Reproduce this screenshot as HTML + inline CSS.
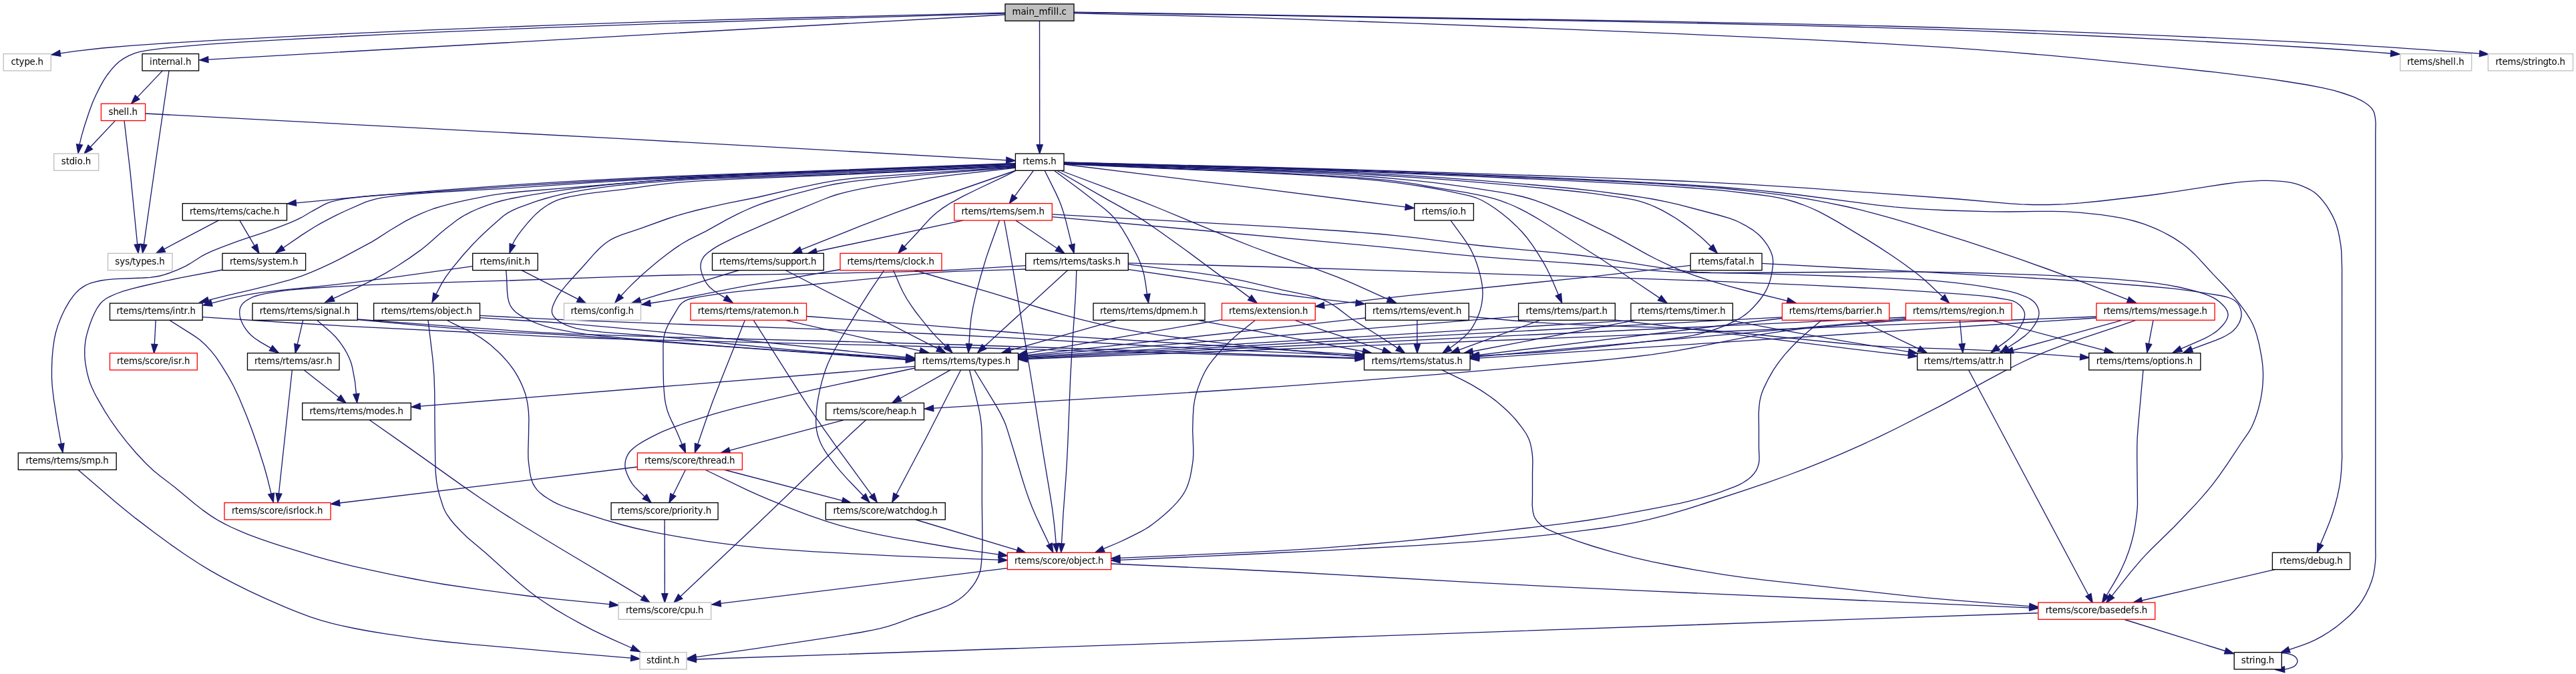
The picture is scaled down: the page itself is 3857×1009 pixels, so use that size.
<!DOCTYPE html><html><head><meta charset="utf-8"><title>main_mfill.c include graph</title><style>html,body{margin:0;padding:0;background:#fff}svg{display:block;will-change:transform}text{font-family:"DejaVu Sans","Liberation Sans",sans-serif;font-size:13.33px;text-anchor:start;fill:#000}.e path{fill:none;stroke:#191970;stroke-width:1.33}.e polygon{fill:#191970;stroke:#191970;stroke-width:1.33}</style></head><body>
<svg width="3857" height="1009" viewBox="0 0 3857 1009">
<rect width="3857" height="1009" fill="#fff"/>
<g class="e">
<path d="M1505.0,19.2 L1158.2,27.5 L1002.5,31.7 L836.5,37.3 L637.3,45.2 L524.6,50.2 L419.6,55.3 L326.1,60.2 L238.7,65.3 L195.4,68.3 L153.2,72.0 L114.6,76.3 L90.1,79.9"/><polygon points="77.0,82.0 89.4,75.4 90.8,84.3"/>
<path d="M1505.0,20.2 L1158.2,30.1 L1002.5,34.9 L819.2,41.4 L653.2,48.1 L575.7,51.6 L487.4,56.0 L415.7,59.8 L351.1,63.7 L306.6,66.7 L269.4,69.8 L245.7,72.2 L219.4,75.7 L209.8,77.4 L201.9,79.6 L192.9,83.3 L185.5,87.4 L178.5,92.3 L172.7,97.5 L166.6,104.3 L160.7,112.0 L154.8,120.9 L149.3,130.9 L143.4,142.8 L138.4,154.1 L133.2,168.2 L126.6,188.3 L122.3,202.9 L119.0,216.4"/><polygon points="117.0,229.5 114.5,215.7 123.4,217.0"/>
<path d="M1505.0,22.0 L933.7,53.8 L311.8,89.2"/><polygon points="298.5,90.0 311.5,84.8 312.0,93.7"/>
<path d="M1556.5,31.2 L1556.7,216.7"/><polygon points="1556.7,230.0 1552.2,216.7 1561.2,216.6"/>
<path d="M1608.0,18.7 L1858.0,22.4 L2436.5,32.6 L2659.0,37.3 L2784.1,40.5 L2861.0,42.8 L2950.3,45.9 L3056.8,50.3 L3160.6,55.0 L3258.5,59.9 L3367.9,65.8 L3464.4,71.5 L3509.2,74.5 L3579.7,80.0"/><polygon points="3593.0,81.0 3579.4,84.5 3580.1,75.5"/>
<path d="M1608.0,18.2 L1829.8,21.5 L2481.6,31.9 L2701.8,36.2 L2823.3,39.0 L2897.0,41.0 L3001.7,44.3 L3127.3,48.8 L3245.9,53.6 L3356.3,58.6 L3457.0,63.6 L3519.4,67.1 L3576.0,70.7 L3712.7,80.1"/><polygon points="3726.0,81.0 3712.4,84.6 3713.0,75.6"/>
<path d="M1608.0,19.8 L1790.5,24.1 L1888.0,26.9 L2094.6,34.2 L2309.1,42.3 L2490.3,49.6 L2664.3,57.3 L2744.1,61.2 L2816.6,65.1 L2912.5,70.9 L2958.0,74.1 L3013.5,78.4 L3064.6,82.7 L3113.0,87.1 L3184.0,94.1 L3257.4,101.6 L3317.5,108.2 L3364.1,113.8 L3397.7,118.2 L3420.0,121.5 L3454.3,127.0 L3477.0,131.3 L3494.5,135.4 L3509.7,140.0 L3524.2,145.2 L3534.9,150.1 L3540.7,153.5 L3546.0,157.2 L3549.7,160.6 L3552.6,164.4 L3554.4,167.8 L3555.5,171.5 L3556.5,177.3 L3557.1,184.2 L3556.8,200.0 L3556.8,820.0 L3557.0,832.5 L3556.6,840.2 L3555.5,850.7 L3553.7,860.7 L3551.5,868.5 L3547.4,879.2 L3542.2,890.1 L3536.9,899.1 L3531.9,906.3 L3526.0,913.2 L3518.3,921.2 L3508.6,929.8 L3497.4,938.9 L3487.2,946.0 L3476.5,952.6 L3466.7,957.8 L3456.7,962.3 L3446.0,966.3 L3427.5,972.6"/><polygon points="3415.0,977.0 3426.1,968.3 3429.0,976.8"/>
<path d="M243.3,105.9 L205.6,145.6"/><polygon points="196.5,155.3 202.4,142.5 208.9,148.7"/>
<path d="M253.0,106.0 L232.8,244.2 L215.4,365.8"/><polygon points="213.5,379.0 210.9,365.2 219.8,366.5"/>
<path d="M172.6,180.6 L135.2,220.3"/><polygon points="126.1,230.0 132.0,217.2 138.5,223.4"/>
<path d="M186.0,180.5 L194.9,256.6 L205.7,365.8"/><polygon points="207.0,379.0 201.2,366.2 210.2,365.3"/>
<path d="M217.6,170.0 L931.1,207.7 L1129.1,218.6 L1506.7,239.8"/><polygon points="1520.0,240.5 1506.5,244.3 1507.0,235.3"/>
<path d="M1520.0,244.5 L1025.7,263.2 L951.8,266.4 L868.6,270.6 L818.0,273.6 L771.2,276.6 L667.8,284.2 L548.0,294.0 L443.2,303.8"/><polygon points="430.0,305.0 442.8,299.3 443.7,308.2"/>
<path d="M1520.0,245.1 L1060.5,263.0 L981.2,266.5 L904.1,270.5 L773.5,278.4 L625.8,288.7 L561.1,292.7 L544.6,294.2 L518.2,297.4 L506.8,299.3 L496.4,301.9 L490.1,304.1 L484.7,306.6 L467.1,316.3 L451.2,325.7 L443.0,329.6 L433.8,333.6 L417.6,339.9 L397.4,347.4 L366.3,357.6 L354.6,361.6 L332.5,369.8 L316.9,376.1 L307.9,380.3 L302.3,383.3 L284.4,394.7 L278.0,398.3 L266.1,403.9 L252.9,409.0 L245.6,411.4 L239.6,413.0 L234.0,414.0 L224.8,415.3 L213.8,416.0 L171.7,417.7 L158.9,418.8 L151.0,420.0 L139.9,422.6 L135.6,423.9 L131.6,425.5 L127.8,427.4 L124.1,429.6 L120.6,432.1 L117.3,434.8 L114.1,437.9 L110.4,442.1 L103.9,451.1 L97.7,461.8 L91.8,474.0 L86.7,487.1 L83.3,498.5 L81.1,509.1 L79.2,523.0 L78.0,537.4 L77.5,551.8 L77.5,565.7 L78.3,579.3 L80.6,598.3 L85.7,631.4 L91.6,664.4"/><polygon points="94.0,677.5 87.2,665.2 96.0,663.6"/>
<path d="M1520.0,245.7 L1251.7,256.1 L1084.2,263.1 L981.2,267.9 L890.3,273.1 L762.3,281.8 L653.7,287.9 L616.7,290.7 L592.4,293.1 L572.5,295.9 L562.8,297.9 L554.0,300.3 L548.2,302.2 L542.9,304.4 L516.5,316.0 L504.6,321.7 L492.4,327.9 L480.2,334.4 L470.5,340.0 L453.0,351.1 L424.0,371.0"/><polygon points="413.0,378.5 421.5,367.3 426.5,374.7"/>
<path d="M1520.0,246.3 L1126.4,262.1 L1081.1,264.2 L1037.2,266.5 L997.7,269.0 L961.1,271.8 L848.2,281.4 L784.4,286.5 L757.4,289.2 L734.8,292.4 L700.7,299.1 L686.0,302.3 L673.6,305.4 L660.0,309.1 L650.5,312.0 L640.9,315.5 L631.3,319.4 L618.1,325.4 L606.0,331.7 L584.4,344.5 L565.2,356.9 L556.7,362.1 L509.1,387.6 L498.1,393.1 L479.8,401.6 L466.4,407.4 L452.6,412.8 L435.3,418.6 L411.5,425.2 L377.6,433.7 L340.9,442.2 L311.9,449.3"/><polygon points="299.0,452.5 310.8,444.9 313.0,453.7"/>
<path d="M1520.0,247.5 L1240.0,259.5 L1069.7,265.6 L1027.9,267.6 L992.5,269.7 L961.9,271.9 L933.1,274.3 L905.1,277.0 L875.8,280.3 L847.8,283.9 L825.0,287.1 L787.5,293.2 L769.2,296.5 L759.2,298.6 L749.4,301.0 L740.4,303.7 L730.0,307.1 L720.0,310.8 L712.3,314.0 L704.9,317.4 L696.4,321.8 L690.8,325.1 L684.2,329.5 L666.7,342.9 L658.9,349.4 L640.9,365.6 L629.8,374.4 L613.7,385.9 L595.3,398.0 L576.6,409.3 L555.4,420.7 L534.8,430.6 L499.1,446.9"/><polygon points="487.0,452.5 497.2,442.8 501.0,451.0"/>
<path d="M1520.0,248.5 L1330.8,257.4 L1240.0,261.4 L1191.3,263.2 L1087.4,266.5 L1052.5,267.9 L1027.9,269.2 L970.8,273.3 L945.6,275.5 L922.1,277.9 L900.4,280.6 L877.7,283.8 L859.8,286.9 L845.2,289.9 L829.7,293.6 L815.5,297.5 L802.1,301.7 L787.0,307.1 L775.9,311.2 L767.0,315.1 L760.0,318.9 L754.1,323.0 L749.6,326.7 L731.8,342.6 L718.1,355.4 L705.9,368.0 L693.5,381.8 L677.1,401.7 L667.6,414.3 L660.9,425.1 L652.9,440.6"/><polygon points="647.0,452.5 648.9,438.6 657.0,442.6"/>
<path d="M1520.0,249.2 L1230.2,262.9 L1094.1,268.4 L1042.6,271.1 L1015.5,273.2 L994.7,275.3 L975.9,277.7 L934.9,283.3 L890.9,288.3 L876.1,290.3 L852.4,294.7 L844.7,296.5 L838.8,298.2 L833.2,300.2 L827.2,302.9 L821.8,305.8 L815.7,309.8 L808.9,314.8 L803.0,319.9 L797.3,325.6 L790.9,332.7 L781.3,344.3 L775.1,352.6 L770.5,359.8 L767.4,366.1"/><polygon points="763.0,378.7 763.1,364.7 771.6,367.6"/>
<path d="M1520.0,250.0 L1307.0,264.4 L1277.8,266.9 L1256.8,269.4 L1244.8,271.3 L1230.7,273.8 L1191.1,282.1 L1135.8,295.0 L1089.9,304.1 L1068.2,308.9 L1044.1,314.5 L1024.8,319.6 L1012.7,323.2 L997.9,328.0 L957.4,342.6 L931.1,351.3 L920.7,355.6 L914.8,358.7 L911.0,361.0 L905.5,364.9 L900.4,369.3 L895.4,374.0 L889.1,380.6 L873.6,398.2 L855.3,418.2 L847.9,426.6 L839.6,436.9 L835.5,442.7 L833.3,446.3 L830.4,452.0 L828.3,456.8 L827.1,460.4 L826.4,463.9 L826.4,467.3 L827.0,469.7 L828.2,472.3 L829.9,474.8 L833.1,478.0 L837.0,481.0 L841.7,483.7 L847.1,486.4 L853.6,488.9 L857.7,490.2 L862.1,491.3 L872.0,493.3 L883.2,495.1 L901.8,497.2 L922.1,498.9 L972.2,502.5 L993.2,504.3 L1099.2,515.5 L1183.8,523.6 L1214.6,526.2 L1250.6,529.0 L1356.7,536.1"/><polygon points="1370.0,537.0 1356.4,540.6 1357.0,531.6"/>
<path d="M1520.0,250.7 L1420.0,258.6 L1322.3,266.8 L1297.0,269.2 L1273.2,271.9 L1250.7,275.5 L1239.0,277.9 L1225.2,281.1 L1178.5,293.4 L1163.6,297.6 L1149.2,302.0 L1138.0,305.9 L1127.2,310.1 L1115.9,315.0 L1103.5,320.9 L1087.5,329.1 L1057.0,346.1 L1031.3,358.9 L1020.0,365.5 L1010.5,371.9 L998.7,380.5 L985.3,391.0 L971.3,402.7 L960.5,412.2 L949.0,423.1 L938.2,433.9 L929.8,443.0"/><polygon points="921.0,453.0 926.4,440.0 933.2,446.0"/>
<path d="M1520.0,251.4 L1431.7,261.3 L1408.4,264.1 L1385.6,267.2 L1342.6,273.6 L1310.6,278.7 L1285.8,283.3 L1268.0,287.3 L1260.0,289.3 L1250.8,292.0 L1242.4,294.9 L1232.9,298.5 L1195.0,314.1 L1145.4,335.3 L1111.2,350.3 L1098.7,356.1 L1080.5,365.1 L1072.4,369.6 L1066.6,373.4 L1059.3,378.8 L1054.6,383.3 L1053.2,385.2 L1051.6,388.0 L1050.3,390.8 L1049.6,393.1 L1049.1,396.1 L1049.0,399.3 L1049.3,403.0 L1050.3,407.4 L1051.8,412.1 L1053.8,416.9 L1056.3,421.6 L1058.4,424.9 L1062.2,429.5 L1067.4,434.1 L1075.2,439.5 L1085.8,445.9"/><polygon points="1097.0,453.0 1083.4,449.7 1088.2,442.1"/>
<path d="M1520.0,255.5 L1401.9,296.5 L1341.1,318.3 L1289.6,337.9 L1199.4,373.9"/><polygon points="1187.0,378.8 1197.7,369.7 1201.0,378.1"/>
<path d="M1521.0,255.5 L1506.5,262.8 L1460.7,284.5 L1441.2,294.2 L1423.5,303.8 L1412.0,311.1 L1402.5,318.2 L1397.1,323.0 L1392.1,327.8 L1386.2,334.1 L1373.8,348.0 L1354.0,369.2"/><polygon points="1345.0,379.0 1350.7,366.2 1357.3,372.3"/>
<path d="M1547.4,255.3 L1519.2,293.9"/><polygon points="1511.3,304.6 1515.5,291.2 1522.8,296.5"/>
<path d="M1564.0,255.0 L1581.2,289.6 L1585.3,298.6 L1589.0,308.0 L1592.7,319.1 L1596.0,330.8 L1604.7,366.1"/><polygon points="1608.0,379.0 1600.4,367.2 1609.1,365.0"/>
<path d="M1578.0,255.0 L1619.3,285.8 L1654.1,312.7 L1659.8,317.7 L1664.0,321.7 L1669.4,327.6 L1673.4,332.7 L1680.9,343.7 L1688.9,357.1 L1700.4,378.5 L1703.8,385.3 L1706.8,392.2 L1710.5,402.4 L1713.0,411.6 L1715.2,423.9 L1717.5,440.3"/><polygon points="1719.5,453.5 1713.1,441.0 1722.0,439.7"/>
<path d="M1582.0,255.0 L1659.2,299.3 L1691.7,317.4 L1701.8,323.4 L1713.6,330.9 L1736.8,346.7 L1775.8,374.7 L1871.3,445.6"/><polygon points="1882.0,453.5 1868.6,449.3 1873.9,442.0"/>
<path d="M1587.0,255.0 L1669.9,286.1 L1711.4,302.1 L1739.6,313.5 L1843.8,356.8 L1877.0,370.0 L1907.4,381.1 L1971.6,403.2 L2001.6,414.4 L2017.4,420.9 L2032.4,427.4 L2078.3,448.1"/><polygon points="2090.4,453.5 2076.4,452.2 2080.1,444.0"/>
<path d="M1593.0,246.0 L1849.6,277.7 L2104.3,309.9"/><polygon points="2117.5,311.5 2103.8,314.3 2104.8,305.4"/>
<path d="M1593.0,245.5 L1674.3,249.4 L1845.5,256.7 L1907.1,259.6 L1964.6,262.7 L2016.2,266.1 L2046.4,268.7 L2066.7,270.7 L2091.8,273.7 L2114.6,276.8 L2135.2,280.0 L2158.1,284.1 L2174.3,287.4 L2201.5,293.4 L2209.9,296.0 L2219.0,300.0 L2228.2,305.2 L2237.8,311.5 L2247.7,318.7 L2259.7,328.6 L2270.9,338.9 L2278.7,347.0 L2285.7,355.2 L2293.9,366.1 L2302.8,379.6 L2311.2,393.4 L2316.3,402.7 L2320.9,412.2 L2325.2,421.8 L2333.4,441.3"/><polygon points="2338.7,453.5 2329.3,443.1 2337.5,439.5"/>
<path d="M1593.0,245.0 L1675.2,248.8 L1912.6,258.9 L1987.4,262.8 L2034.3,265.9 L2073.7,269.4 L2089.2,271.1 L2105.6,273.3 L2120.7,275.7 L2152.8,281.3 L2194.8,288.1 L2218.8,292.8 L2228.4,295.1 L2237.9,297.7 L2247.2,300.7 L2256.4,304.0 L2266.1,308.0 L2275.8,312.6 L2285.5,317.7 L2295.3,323.1 L2304.9,328.8 L2319.2,337.7 L2360.1,364.2 L2395.1,386.3 L2450.1,422.7 L2485.0,446.1"/><polygon points="2496.0,453.5 2482.4,449.8 2487.5,442.3"/>
<path d="M1593.0,244.7 L1673.7,247.9 L1902.9,256.3 L1978.8,259.8 L2029.7,262.8 L2060.0,265.0 L2092.1,267.8 L2121.5,270.7 L2148.5,273.7 L2173.5,276.9 L2196.9,280.1 L2245.7,287.6 L2260.4,290.1 L2278.1,294.0 L2287.4,296.5 L2298.3,299.9 L2316.5,306.6 L2340.6,316.8 L2369.8,330.3 L2412.8,351.4 L2429.5,360.3 L2466.2,380.8 L2480.0,388.0 L2502.2,398.6 L2512.1,402.8 L2523.3,407.3 L2537.3,412.4 L2552.1,417.4 L2567.9,422.4 L2585.9,427.7 L2615.4,435.5 L2676.1,450.3"/><polygon points="2689.0,453.5 2675.0,454.7 2677.2,445.9"/>
<path d="M1593.0,244.4 L1916.3,255.5 L1991.5,258.5 L2060.0,262.0 L2136.3,266.9 L2176.8,269.9 L2224.3,273.8 L2276.5,278.4 L2324.7,283.0 L2358.8,286.5 L2385.3,289.7 L2428.5,295.9 L2446.7,299.2 L2455.4,301.4 L2461.8,303.3 L2469.4,306.0 L2478.4,309.8 L2488.8,314.9 L2500.7,321.6 L2509.6,327.0 L2520.7,334.6 L2533.4,344.0 L2546.4,354.6 L2553.2,360.7 L2561.9,369.3"/><polygon points="2571.2,378.8 2558.7,372.5 2565.1,366.2"/>
<path d="M1593.0,244.1 L1896.7,253.4 L1973.2,256.1 L2026.7,258.4 L2093.5,261.9 L2156.8,265.9 L2224.3,270.8 L2298.2,277.0 L2352.7,282.0 L2392.5,286.4 L2438.9,292.5 L2460.2,295.7 L2477.1,298.5 L2495.1,302.1 L2512.0,305.9 L2573.3,322.0 L2589.9,326.9 L2596.6,329.3 L2602.8,332.0 L2614.0,337.8 L2624.2,344.1 L2632.0,350.2 L2635.5,353.5 L2639.4,357.8 L2643.0,362.3 L2646.3,367.0 L2649.1,371.9 L2651.4,376.8 L2653.2,381.5 L2654.2,385.5 L2654.6,389.3 L2654.7,393.9 L2654.3,399.5 L2653.1,407.6 L2651.7,414.6 L2650.1,420.6 L2648.0,426.6 L2646.1,431.2 L2643.8,435.9 L2640.2,441.7 L2636.1,447.5 L2630.8,454.0 L2625.3,460.0 L2618.9,466.2 L2613.9,470.4 L2609.3,473.7 L2604.0,477.0 L2596.8,480.9 L2586.5,485.8 L2577.5,489.6 L2565.3,494.0 L2555.0,497.2 L2545.8,499.7 L2533.9,502.3 L2521.1,504.5 L2507.7,506.4 L2489.0,508.7 L2403.3,518.3 L2342.2,524.3 L2310.0,527.0 L2286.7,528.7 L2214.8,532.7"/><polygon points="2201.5,533.5 2214.5,528.2 2215.0,537.2"/>
<path d="M1593.0,243.8 L1863.0,251.2 L1980.2,254.9 L2039.9,257.2 L2202.6,263.9 L2330.0,269.6 L2404.4,273.3 L2451.3,275.9 L2495.2,278.6 L2535.1,281.5 L2570.3,284.4 L2585.9,285.9 L2629.6,291.0 L2649.4,293.6 L2663.5,296.1 L2673.8,298.4 L2688.0,302.5 L2699.6,306.5 L2711.9,311.5 L2724.1,317.2 L2736.3,323.6 L2752.3,332.6 L2794.5,358.1 L2812.2,369.1 L2832.9,382.7 L2849.5,394.2 L2867.8,407.8 L2879.6,417.3 L2891.7,428.2 L2908.8,444.4"/><polygon points="2918.5,453.5 2905.7,447.7 2911.9,441.1"/>
<path d="M1593.0,243.5 L1863.0,250.6 L1980.2,254.1 L2224.3,263.3 L2347.7,268.3 L2442.4,272.9 L2486.7,275.4 L2528.2,278.1 L2566.1,280.9 L2600.0,284.0 L2632.1,287.4 L2660.2,290.8 L2685.6,294.3 L2709.7,298.3 L2733.7,302.8 L2765.7,309.5 L2785.6,314.2 L2805.6,319.3 L2832.1,326.6 L2858.5,334.4 L2944.9,361.3 L2985.7,374.8 L3026.1,388.7 L3065.0,402.5 L3098.7,414.8 L3129.2,426.4 L3186.1,448.7"/><polygon points="3198.5,453.5 3184.5,452.9 3187.7,444.5"/>
<path d="M1593.0,243.2 L1882.4,250.4 L2019.9,254.5 L2197.0,261.1 L2316.3,265.9 L2410.6,270.2 L2500.0,275.1 L2541.9,277.7 L2581.3,280.5 L2612.5,283.1 L2637.0,285.4 L2660.8,288.0 L2695.2,292.0 L2808.9,306.8 L2836.7,309.8 L2866.7,312.3 L2889.5,313.7 L2915.9,315.0 L2982.0,316.8 L3008.8,317.0 L3052.0,316.4 L3073.3,316.3 L3094.0,316.8 L3113.3,318.2 L3130.3,319.8 L3147.1,321.7 L3163.4,324.1 L3175.3,326.2 L3186.8,328.6 L3197.9,331.5 L3210.9,335.7 L3222.4,340.1 L3230.7,343.6 L3238.7,347.5 L3246.5,351.6 L3254.1,355.9 L3261.4,360.6 L3268.5,365.5 L3273.0,368.9 L3279.5,374.5 L3285.8,380.4 L3291.8,386.6 L3314.2,411.1 L3331.0,428.5 L3338.5,436.7 L3344.6,443.8 L3351.9,453.1 L3362.7,467.6 L3369.1,477.8 L3372.0,483.2 L3374.6,488.9 L3377.0,495.3 L3379.1,501.9 L3382.7,515.8 L3386.1,533.8 L3387.4,543.1 L3388.1,550.7 L3388.5,557.9 L3388.5,565.0 L3388.1,573.6 L3387.5,580.9 L3386.5,588.3 L3385.0,597.1 L3383.4,604.4 L3381.3,612.6 L3378.9,620.5 L3376.6,626.9 L3373.7,634.3 L3371.0,640.0 L3368.6,644.3 L3366.2,648.1 L3357.9,660.0 L3334.8,694.8 L3322.0,713.2 L3313.4,724.6 L3305.1,734.8 L3296.7,744.6 L3285.9,756.6 L3255.2,788.7 L3220.6,822.5 L3212.0,831.4 L3205.4,838.6 L3189.5,857.4 L3162.0,892.1"/><polygon points="3153.7,902.5 3158.5,889.3 3165.5,894.9"/>
<path d="M1593.0,243.0 L1901.8,250.5 L2039.9,254.4 L2336.5,263.9 L2429.1,267.3 L2517.8,271.0 L2615.0,275.8 L2702.7,281.3 L2931.9,298.0 L3010.2,304.8 L3027.0,305.9 L3044.0,306.5 L3067.6,306.5 L3091.4,305.6 L3115.1,303.9 L3144.8,301.0 L3205.0,294.0 L3225.2,291.5 L3253.7,287.3 L3330.8,275.5 L3348.6,273.1 L3364.0,271.6 L3385.6,270.4 L3394.7,270.3 L3403.2,270.6 L3415.4,271.4 L3424.3,272.4 L3431.6,273.7 L3437.6,275.2 L3445.0,277.7 L3452.6,280.8 L3458.7,283.8 L3464.6,287.5 L3469.0,291.0 L3474.0,296.0 L3478.9,301.8 L3483.6,308.2 L3487.9,314.9 L3492.6,323.4 L3495.7,329.9 L3498.5,337.5 L3500.7,345.2 L3502.7,354.5 L3504.9,367.6 L3505.8,376.6 L3506.6,401.7 L3506.5,670.0 L3506.7,684.4 L3505.7,703.8 L3504.4,717.9 L3502.7,729.0 L3499.9,742.4 L3496.3,756.2 L3492.5,768.8 L3488.4,780.4 L3483.6,792.4 L3474.3,814.7"/><polygon points="3469.3,827.0 3470.2,813.0 3478.5,816.4"/>
<path d="M1442.4,329.9 L1222.6,376.5"/><polygon points="1209.6,379.3 1221.6,372.1 1223.5,380.9"/>
<path d="M1520.8,329.9 L1582.8,371.8"/><polygon points="1593.8,379.3 1580.2,375.6 1585.3,368.1"/>
<path d="M1496.5,330.0 L1482.0,370.2 L1476.4,386.6 L1468.4,413.5 L1461.6,439.1 L1457.3,457.9 L1454.2,475.1 L1452.4,492.2 L1450.9,514.7"/><polygon points="1450.0,528.0 1446.5,514.4 1455.4,515.1"/>
<path d="M1503.6,330.0 L1512.9,381.1 L1518.5,413.4 L1542.3,556.0 L1562.7,683.1 L1572.7,743.2 L1575.6,761.6 L1577.6,777.1 L1579.2,791.4 L1581.2,813.8"/><polygon points="1582.4,827.0 1576.7,814.2 1585.7,813.3"/>
<path d="M1575.3,324.6 L2012.0,364.3 L2084.0,371.1 L2169.1,379.8 L2206.0,383.4 L2252.9,387.2 L2347.9,393.6 L2380.0,396.0 L2406.3,398.3 L2461.3,403.8 L2486.0,405.8 L2506.0,407.1 L2525.9,407.9 L2550.5,408.4 L2611.3,409.2 L2682.1,411.1 L2758.0,413.5 L2830.0,416.4 L2868.7,418.4 L2895.7,420.2 L2925.7,423.1 L2952.3,426.3 L2969.1,428.8 L2997.6,433.8 L3010.7,436.6 L3020.5,439.4 L3032.9,444.1 L3037.0,446.0 L3040.6,448.1 L3043.8,450.4 L3045.9,452.3 L3048.0,454.8 L3049.7,457.4 L3051.4,460.9 L3052.6,464.6 L3053.0,468.5 L3052.8,472.0 L3052.0,475.1 L3050.3,479.5 L3047.9,483.9 L3045.0,488.4 L3041.7,492.8 L3037.7,497.4 L3031.7,502.9 L3022.7,509.6 L3006.0,520.5"/><polygon points="2995.0,528.0 3003.5,516.8 3008.5,524.2"/>
<path d="M1575.3,320.8 L1918.0,339.9 L2012.0,346.0 L2068.3,350.5 L2091.5,352.8 L2119.4,355.9 L2187.3,364.3 L2219.0,368.0 L2253.1,371.4 L2329.1,378.4 L2367.9,382.5 L2384.7,384.6 L2403.0,387.3 L2465.9,397.7 L2506.0,403.7 L2524.9,406.0 L2541.5,407.4 L2561.3,408.2 L2588.8,408.5 L2796.5,407.0 L2852.7,406.9 L2890.5,407.2 L2954.6,408.5 L3000.8,409.8 L3047.2,411.3 L3112.9,414.3 L3142.3,416.1 L3165.4,417.8 L3200.6,420.9 L3223.3,423.4 L3244.1,426.3 L3263.3,430.0 L3287.5,435.9 L3297.0,438.8 L3303.6,441.1 L3309.7,443.6 L3315.2,446.4 L3318.5,448.4 L3323.0,451.8 L3326.8,455.2 L3330.2,458.7 L3333.0,462.4 L3335.0,466.1 L3335.9,469.9 L3335.9,472.7 L3335.2,475.7 L3333.3,479.8 L3330.6,483.9 L3327.1,488.0 L3323.2,492.0 L3318.2,496.4 L3311.8,500.8 L3301.6,506.4 L3289.9,511.7 L3265.6,522.1"/><polygon points="3253.5,527.7 3263.7,518.0 3267.5,526.2"/>
<path d="M2638.0,394.3 L2823.7,404.2 L3024.1,415.2 L3079.7,418.5 L3131.6,421.9 L3216.0,428.5 L3255.2,432.2 L3280.1,435.3 L3324.9,442.5 L3331.6,444.0 L3335.7,445.1 L3339.4,446.5 L3342.8,448.0 L3345.7,449.8 L3347.8,451.5 L3349.8,453.6 L3351.6,455.9 L3353.5,459.3 L3354.8,462.8 L3355.7,466.4 L3356.0,469.9 L3355.8,473.7 L3355.2,476.8 L3353.8,480.9 L3352.3,484.0 L3350.5,487.1 L3348.4,490.1 L3344.0,494.9 L3340.2,498.0 L3332.9,502.5 L3327.3,505.3 L3317.8,509.4 L3281.8,522.7"/><polygon points="3269.5,527.7 3280.1,518.5 3283.5,526.9"/>
<path d="M2531.2,397.3 L2427.5,409.2 L2369.9,415.6 L2109.7,442.4 L2058.3,448.2 L1982.5,457.2"/><polygon points="1969.3,458.8 1982.0,452.8 1983.0,461.7"/>
<path d="M1535.7,397.6 L1435.8,403.7 L1408.6,405.0 L1372.1,406.3 L1315.6,407.7 L1150.3,410.9 L1101.4,411.5 L1037.5,411.4 L1002.1,412.0 L923.8,414.3 L757.0,420.2 L653.7,423.1 L584.6,425.4 L544.2,426.9 L515.1,428.3 L464.6,431.5 L433.7,434.1 L420.1,435.8 L399.6,439.1 L389.3,441.3 L381.7,443.5 L377.7,445.1 L373.9,447.0 L369.9,449.3 L367.0,451.3 L364.5,453.4 L362.4,455.7 L360.8,458.2 L359.7,460.7 L358.9,464.0 L358.7,467.6 L359.0,472.0 L359.7,476.0 L361.1,480.0 L363.5,485.3 L365.9,489.7 L368.9,493.9 L372.2,498.0 L375.3,501.3 L381.2,506.2 L390.0,512.1 L405.6,521.1"/><polygon points="417.0,528.0 403.3,525.0 407.9,517.3"/>
<path d="M1535.7,403.0 L1432.9,406.2 L1405.1,407.7 L1380.2,409.7 L1179.0,429.5 L1119.2,434.9 L1096.3,437.3 L1079.6,439.4 L1044.5,444.8 L1034.8,447.0 L1029.6,448.7 L1026.4,450.2 L1023.6,451.8 L1020.9,453.8 L1018.7,456.0 L1016.1,459.3 L1004.1,479.6 L1000.3,486.5 L997.0,493.8 L994.7,501.3 L993.5,508.1 L992.9,516.4 L993.1,555.0 L993.5,574.5 L994.7,590.7 L995.8,599.8 L996.8,605.4 L999.0,614.0 L1001.7,621.5 L1005.7,630.4 L1013.6,646.8 L1021.4,665.4"/><polygon points="1026.5,677.7 1017.2,667.1 1025.6,663.7"/>
<path d="M1598.7,404.5 L1473.5,519.0"/><polygon points="1463.7,528.0 1470.5,515.7 1476.6,522.3"/>
<path d="M1611.8,404.5 L1611.0,429.7 L1610.1,447.5 L1604.5,533.4 L1602.7,565.4 L1598.9,661.2 L1597.4,692.0 L1595.8,717.2 L1592.0,769.0 L1589.5,813.7"/><polygon points="1588.8,827.0 1585.0,813.5 1594.0,814.0"/>
<path d="M1689.3,393.9 L1935.7,400.5 L2110.5,406.2 L2369.2,414.1 L2557.0,420.6 L2703.6,426.7 L2805.1,431.7 L2877.3,436.1 L2941.1,440.7 L2964.5,442.7 L2978.4,444.2 L2987.7,445.5 L3006.1,448.6 L3010.9,449.6 L3014.2,450.7 L3019.1,453.0 L3022.1,455.2 L3024.8,457.6 L3027.2,460.2 L3028.7,462.4 L3030.0,464.6 L3030.9,466.9 L3031.5,469.2 L3031.6,471.9 L3031.2,475.0 L3030.3,478.2 L3029.0,481.5 L3026.7,486.1 L3023.9,490.6 L3020.8,494.9 L3016.4,500.1 L3010.6,505.6 L3003.9,510.9 L2991.6,519.9"/><polygon points="2981.0,528.0 2988.8,516.4 2994.3,523.5"/>
<path d="M1689.3,395.6 L1786.3,407.7 L1809.3,410.9 L1830.8,414.4 L1846.4,417.3 L1864.8,421.2 L1919.0,433.9 L1957.8,441.9 L1971.7,445.5 L1979.5,448.2 L1984.5,450.3 L1988.6,452.3 L1994.3,455.5 L2003.3,461.6 L2018.5,473.3 L2025.3,478.2 L2036.6,485.4 L2063.4,502.0 L2092.5,521.1"/><polygon points="2103.6,528.5 2090.0,524.9 2095.0,517.4"/>
<path d="M1689.3,403.3 L1786.3,417.7 L1825.6,423.8 L1850.1,428.1 L1899.2,437.2 L1919.0,440.5 L1956.7,445.4 L2030.3,453.6"/><polygon points="2043.5,455.0 2029.8,458.1 2030.8,449.1"/>
<path d="M327.4,329.9 L245.5,373.1"/><polygon points="233.7,379.3 243.4,369.1 247.6,377.1"/>
<path d="M358.8,329.9 L381.1,367.8"/><polygon points="387.9,379.3 377.2,370.1 385.0,365.5"/>
<path d="M333.0,404.0 L270.0,415.9 L243.8,421.4 L212.6,428.5 L198.0,432.1 L184.6,435.9 L173.4,440.0 L164.7,443.8 L159.2,446.7 L154.3,450.4 L150.2,454.5 L145.7,460.8 L141.7,468.2 L138.1,476.2 L133.9,487.5 L130.4,499.1 L129.0,504.9 L127.9,510.8 L126.8,521.4 L126.8,531.6 L127.1,537.2 L128.0,544.7 L130.4,557.9 L133.4,569.0 L135.4,574.7 L137.7,580.3 L141.2,587.8 L145.1,595.2 L156.8,615.4 L166.5,630.5 L177.1,645.3 L189.7,661.6 L203.6,678.0 L218.2,693.5 L230.1,704.8 L239.6,712.5 L261.5,729.2 L291.6,754.2 L304.0,763.9 L313.8,770.9 L320.7,775.4 L327.8,779.7 L336.1,784.2 L345.8,789.0 L361.4,795.9 L372.2,800.3 L389.1,806.6 L406.6,812.6 L424.4,818.3 L472.2,832.8 L491.1,838.1 L510.3,843.1 L529.7,847.8 L555.9,853.7 L588.7,860.6 L621.4,867.0 L640.8,870.6 L666.7,875.0 L718.7,882.7 L789.3,892.0 L832.9,896.8 L912.8,904.6"/><polygon points="926.0,906.0 912.3,909.1 913.2,900.2"/>
<path d="M781.1,404.6 L865.5,447.9"/><polygon points="877.3,454.0 863.5,451.9 867.6,443.9"/>
<path d="M707.7,398.7 L583.4,415.9 L523.4,423.7 L490.2,427.4 L418.9,434.6 L389.7,438.1 L373.8,440.6 L357.5,443.8 L342.8,447.2 L316.9,453.8"/><polygon points="304.0,457.0 315.8,449.4 318.0,458.2"/>
<path d="M757.6,404.5 L758.5,413.9 L759.4,436.1 L760.4,445.4 L761.9,451.7 L763.2,455.5 L765.0,459.0 L767.8,462.8 L772.1,467.2 L778.6,471.9 L785.8,475.9 L798.4,481.9 L806.0,485.0 L814.0,487.7 L822.5,490.1 L831.7,492.3 L855.0,496.9 L876.6,500.2 L900.8,503.0 L934.4,506.1 L1034.9,514.5 L1089.9,518.8 L1356.7,537.5"/><polygon points="1370.0,538.5 1356.4,542.0 1357.1,533.1"/>
<path d="M1106.5,404.5 L958.7,449.6"/><polygon points="946.0,453.5 957.4,445.3 960.0,453.9"/>
<path d="M1176.0,404.5 L1404.0,521.9"/><polygon points="1415.8,528.0 1401.9,525.9 1406.0,517.9"/>
<path d="M1258.0,403.5 L1120.5,427.3 L1093.7,432.3 L1043.6,442.3 L1023.6,446.0 L1004.5,449.2 L973.6,454.0"/><polygon points="960.5,456.0 973.0,449.5 974.3,458.4"/>
<path d="M1323.8,404.5 L1303.8,434.2 L1288.5,458.1 L1258.0,508.8 L1249.9,523.3 L1244.2,534.3 L1239.3,545.1 L1236.6,552.0 L1233.4,561.5 L1230.5,571.4 L1228.0,581.4 L1225.3,594.6 L1223.7,604.2 L1222.3,616.2 L1221.8,624.5 L1221.7,631.8 L1222.1,639.0 L1222.8,644.4 L1224.2,650.8 L1226.3,657.3 L1228.6,663.1 L1231.7,669.3 L1235.4,675.4 L1240.7,683.1 L1251.6,697.4 L1256.9,703.9 L1268.9,717.4 L1292.9,742.3"/><polygon points="1302.0,752.0 1289.6,745.4 1296.2,739.2"/>
<path d="M1337.6,404.5 L1347.8,428.2 L1351.8,436.8 L1357.8,447.5 L1364.8,458.2 L1371.1,467.0 L1377.8,475.7 L1392.8,494.1 L1402.3,504.6 L1416.4,518.7"/><polygon points="1425.9,528.0 1413.3,521.9 1419.6,515.5"/>
<path d="M1369.0,404.5 L1487.7,439.4 L1562.5,462.5 L1593.8,471.7 L1616.7,477.8 L1639.3,483.4 L1661.0,488.3 L1679.7,492.1 L1705.5,496.9 L1734.4,501.4 L1771.4,506.5 L1810.3,511.3 L1857.6,516.9 L1896.4,521.0 L2029.4,533.7"/><polygon points="2042.6,535.0 2028.9,538.2 2029.8,529.2"/>
<path d="M2172.3,330.3 L2190.6,355.3 L2195.9,363.0 L2201.9,372.9 L2205.8,380.9 L2208.4,387.1 L2211.5,395.5 L2214.1,404.0 L2216.3,412.3 L2218.1,420.2 L2219.2,426.8 L2219.8,432.7 L2220.0,439.4 L2219.7,445.7 L2218.9,452.7 L2217.9,457.9 L2216.7,462.9 L2214.8,468.7 L2212.0,475.7 L2208.9,482.3 L2205.8,487.9 L2202.9,492.3 L2200.3,495.7 L2197.4,499.1 L2193.3,503.2 L2181.1,513.7 L2171.0,521.0"/><polygon points="2160.0,528.5 2168.5,517.3 2173.5,524.8"/>
<path d="M233.2,479.3 L231.3,515.3"/><polygon points="230.6,528.6 226.8,515.1 235.8,515.6"/>
<path d="M254.2,479.5 L290.6,502.6 L299.2,508.8 L307.0,515.7 L315.6,524.9 L323.4,534.7 L331.9,547.3 L342.5,564.6 L349.9,578.3 L357.7,594.8 L369.2,622.4 L377.6,644.5 L386.9,671.3 L395.9,699.8 L400.3,715.7 L406.1,739.1"/><polygon points="409.3,752.0 401.7,740.2 410.5,738.0"/>
<path d="M303.2,474.6 L447.4,484.0 L525.5,488.6 L724.8,498.5 L808.0,503.1 L865.5,505.6 L920.1,507.3 L1007.7,509.7 L1308.9,516.7 L1435.9,520.0 L1739.8,528.3 L2029.3,536.6"/><polygon points="2042.6,537.0 2029.2,541.1 2029.4,532.1"/>
<path d="M453.7,479.3 L445.2,515.7"/><polygon points="442.2,528.6 440.8,514.6 449.6,516.7"/>
<path d="M474.8,479.5 L494.2,496.3 L502.6,504.5 L507.5,510.5 L512.0,516.6 L516.1,522.9 L519.7,529.2 L522.8,535.7 L524.8,540.6 L526.4,545.5 L527.9,551.7 L531.5,571.3 L533.4,589.8"/><polygon points="534.6,603.0 528.9,590.2 537.9,589.3"/>
<path d="M535.3,478.5 L656.6,489.6 L717.6,494.7 L756.9,497.1 L832.5,500.7 L877.1,503.5 L937.1,507.8 L1089.3,519.2 L1356.7,538.5"/><polygon points="1370.0,539.5 1356.4,543.0 1357.1,534.1"/>
<path d="M535.3,477.8 L680.2,488.8 L769.7,495.1 L813.1,497.8 L865.5,500.3 L920.1,502.2 L1007.7,504.8 L1284.4,511.8 L1400.0,515.0 L1559.0,520.0 L2029.3,535.6"/><polygon points="2042.6,536.0 2029.2,540.1 2029.5,531.1"/>
<path d="M718.5,475.7 L825.7,482.5 L868.0,485.8 L916.8,490.1 L991.1,497.2 L1133.3,511.3 L1356.8,534.6"/><polygon points="1370.0,536.0 1356.3,539.1 1357.2,530.1"/>
<path d="M718.5,472.4 L810.8,477.2 L882.9,480.4 L1234.6,493.2 L1332.9,497.1 L1400.0,500.0 L1524.3,506.4 L1708.5,517.0 L1785.3,521.2 L1875.2,525.6 L2029.3,532.4"/><polygon points="2042.6,533.0 2029.1,536.9 2029.5,527.9"/>
<path d="M641.0,479.5 L647.8,536.2 L649.0,549.8 L650.0,563.6 L650.8,589.4 L651.0,633.8 L651.7,689.0 L652.1,703.7 L652.9,714.2 L653.8,721.9 L654.9,728.6 L658.0,741.4 L663.7,759.2 L666.0,764.5 L669.0,770.0 L674.3,777.5 L680.7,785.2 L690.2,795.2 L699.6,804.4 L727.5,827.9 L764.7,861.6 L778.6,873.7 L792.5,885.2 L802.7,893.0 L815.4,901.8 L831.4,912.1 L850.9,923.5 L870.6,934.4 L886.8,942.9 L899.7,949.2 L915.8,956.7 L945.9,970.0"/><polygon points="958.0,975.5 944.0,974.1 947.7,965.9"/>
<path d="M669.3,479.5 L678.7,484.3 L700.3,494.7 L709.6,499.5 L720.6,506.1 L728.6,511.9 L734.3,516.3 L741.5,522.7 L746.8,527.6 L753.4,534.3 L759.5,541.1 L763.7,546.3 L768.3,552.5 L772.3,558.6 L775.9,564.9 L779.1,571.1 L782.0,577.4 L784.4,583.5 L786.3,588.8 L787.7,593.8 L789.1,599.9 L790.2,606.1 L791.4,616.4 L791.9,626.3 L791.4,655.1 L790.8,674.9 L790.9,685.6 L791.5,692.5 L793.3,706.6 L794.5,712.8 L796.0,718.7 L798.1,724.2 L801.0,729.2 L804.4,733.6 L808.4,737.6 L814.0,742.1 L820.3,746.3 L828.8,751.4 L836.5,755.1 L844.8,758.5 L853.7,761.6 L904.4,777.8 L930.8,785.5 L952.4,791.0 L982.0,797.3 L1018.0,803.9 L1056.6,810.1 L1089.6,814.6 L1116.9,817.8 L1147.4,820.8 L1178.9,823.2 L1218.9,825.8 L1309.6,830.7 L1343.2,832.3 L1495.1,838.2"/><polygon points="1508.4,838.7 1494.9,842.7 1495.3,833.7"/>
<path d="M1115.4,479.3 L1081.5,564.1 L1067.3,600.6 L1057.2,628.4 L1044.7,665.0"/><polygon points="1040.4,677.6 1040.4,663.6 1049.0,666.5"/>
<path d="M1128.2,479.3 L1193.1,581.7 L1208.7,605.8 L1220.8,623.9 L1234.1,643.2 L1253.3,670.2 L1305.4,741.3"/><polygon points="1313.3,752.0 1301.8,743.9 1309.1,738.6"/>
<path d="M1176.0,479.3 L1377.6,525.1"/><polygon points="1390.6,528.0 1376.6,529.4 1378.6,520.7"/>
<path d="M1207.5,473.5 L1392.3,487.4 L1519.5,498.0 L1569.9,501.8 L1711.4,510.5 L2029.3,530.7"/><polygon points="2042.6,531.5 2029.0,535.1 2029.6,526.2"/>
<path d="M1671.8,479.3 L1512.8,524.4"/><polygon points="1500.0,528.0 1511.6,520.0 1514.0,528.7"/>
<path d="M1793.5,479.3 L2040.6,526.0"/><polygon points="2053.7,528.5 2039.8,530.5 2041.5,521.6"/>
<path d="M1829.5,478.7 L1537.6,528.8"/><polygon points="1524.5,531.0 1536.8,524.3 1538.4,533.2"/>
<path d="M1939.0,479.3 L1956.5,485.9 L1974.6,492.2 L2070.8,524.3"/><polygon points="2083.4,528.5 2069.4,528.5 2072.2,520.0"/>
<path d="M1879.6,479.3 L1857.9,496.5 L1849.0,503.9 L1838.1,514.1 L1827.7,525.1 L1816.8,537.7 L1809.9,546.8 L1806.6,552.1 L1803.7,557.3 L1801.1,562.5 L1798.2,569.0 L1793.8,580.6 L1790.6,590.7 L1788.5,600.0 L1787.2,609.4 L1786.3,622.7 L1785.7,644.0 L1786.8,671.8 L1786.8,680.5 L1786.3,688.9 L1784.2,703.0 L1781.9,714.9 L1779.0,724.6 L1776.8,730.3 L1775.0,734.0 L1773.0,737.7 L1770.3,742.0 L1767.2,746.2 L1761.9,752.6 L1755.9,758.9 L1749.6,765.0 L1743.1,770.8 L1734.5,778.0 L1726.4,784.3 L1720.4,788.6 L1714.5,792.3 L1708.6,795.6 L1686.1,806.9 L1674.0,812.5 L1652.2,821.7"/><polygon points="1640.0,827.0 1650.4,817.6 1654.0,825.9"/>
<path d="M2121.9,479.3 L2121.9,515.3"/><polygon points="2121.9,528.6 2117.4,515.3 2126.4,515.3"/>
<path d="M2044.5,476.0 L1537.7,531.6"/><polygon points="1524.5,533.0 1537.2,527.1 1538.2,536.0"/>
<path d="M2199.3,473.9 L2266.2,480.0 L2304.1,482.8 L2341.8,485.1 L2384.8,487.1 L2490.9,490.4 L2523.6,492.0 L2550.0,493.7 L2582.1,496.3 L2616.1,499.5 L2753.0,513.5 L2782.4,516.2 L2805.1,517.8 L2845.2,519.9 L2955.1,523.7 L2985.9,525.1 L3028.1,527.8 L3114.7,534.4"/><polygon points="3128.0,535.4 3114.4,538.9 3115.1,529.9"/>
<path d="M2273.6,473.7 L1537.8,532.9"/><polygon points="1524.5,534.0 1537.4,528.4 1538.1,537.4"/>
<path d="M2306.0,479.3 L2184.5,523.9"/><polygon points="2172.0,528.5 2182.9,519.7 2186.0,528.1"/>
<path d="M2417.5,478.8 L2549.1,494.6 L2774.7,522.6 L2814.4,527.3 L2857.6,532.0"/><polygon points="2870.8,533.4 2857.1,536.4 2858.1,527.5"/>
<path d="M2447.0,479.3 L1537.8,534.2"/><polygon points="1524.5,535.0 1537.5,529.7 1538.0,538.7"/>
<path d="M2449.0,479.3 L2205.1,526.0"/><polygon points="2192.0,528.5 2204.2,521.6 2205.9,530.4"/>
<path d="M2590.5,479.3 L2641.0,489.2 L2715.1,502.7 L2767.8,511.8 L2857.7,526.6"/><polygon points="2870.8,528.8 2856.9,531.1 2858.4,522.2"/>
<path d="M2668.4,474.8 L1537.8,535.3"/><polygon points="1524.5,536.0 1537.5,530.8 1538.0,539.8"/>
<path d="M2668.4,476.5 L2214.3,531.4"/><polygon points="2201.1,533.0 2213.8,526.9 2214.8,535.9"/>
<path d="M2783.5,479.3 L2873.0,522.2"/><polygon points="2885.0,528.0 2871.1,526.3 2875.0,518.2"/>
<path d="M2727.5,479.3 L2704.8,498.4 L2694.7,507.4 L2682.3,519.8 L2672.1,531.1 L2663.2,542.3 L2655.1,554.2 L2647.6,567.3 L2640.9,581.1 L2638.0,588.3 L2636.2,594.3 L2634.9,600.5 L2634.1,606.7 L2633.4,615.8 L2633.3,623.0 L2633.5,638.9 L2633.5,671.0 L2634.1,684.1 L2634.0,688.7 L2633.7,692.3 L2632.5,697.0 L2631.0,701.2 L2629.3,704.6 L2626.0,709.3 L2621.9,713.7 L2616.2,718.4 L2609.5,722.8 L2604.2,725.6 L2597.3,728.7 L2575.3,736.8 L2562.7,740.9 L2546.7,745.6 L2529.5,750.1 L2515.9,753.3 L2482.0,760.2 L2406.6,774.1 L2376.4,779.0 L2342.7,783.6 L2295.5,789.4 L2227.3,797.2 L2158.5,804.5 L2098.3,810.4 L2035.4,816.0 L1973.4,820.8 L1925.2,823.9 L1874.0,826.6 L1676.9,835.4"/><polygon points="1663.6,836.0 1676.7,830.9 1677.1,839.9"/>
<path d="M2853.5,475.0 L1537.8,536.4"/><polygon points="1524.5,537.0 1537.6,531.9 1538.0,540.9"/>
<path d="M2853.5,477.0 L2214.3,533.8"/><polygon points="2201.1,535.0 2213.9,529.3 2214.7,538.3"/>
<path d="M2934.4,479.3 L2937.7,514.8"/><polygon points="2938.9,528.0 2933.2,515.2 2942.2,514.3"/>
<path d="M2981.0,479.3 L3151.4,524.6"/><polygon points="3164.3,528.0 3150.3,528.9 3152.6,520.2"/>
<path d="M2853.5,479.0 L2729.6,489.1 L2698.6,492.2 L2675.4,495.0 L2652.1,498.3 L2628.7,502.2 L2597.6,508.1 L2535.3,520.5 L2511.9,524.8 L2496.3,527.4 L2473.0,530.8 L2442.9,534.5 L2413.5,537.7 L2383.8,540.5 L2239.7,553.2 L2150.6,560.6 L2037.8,569.6 L1920.0,578.3 L1836.3,584.0 L1748.6,589.7 L1397.6,611.2"/><polygon points="1384.3,612.0 1397.3,606.7 1397.9,615.7"/>
<path d="M3138.9,474.0 L1537.8,537.5"/><polygon points="1524.5,538.0 1537.6,533.0 1538.0,542.0"/>
<path d="M3138.9,476.0 L2214.4,536.1"/><polygon points="2201.1,537.0 2214.1,531.6 2214.7,540.6"/>
<path d="M3177.4,479.3 L3013.8,524.5"/><polygon points="3001.0,528.0 3012.6,520.1 3015.0,528.8"/>
<path d="M3224.0,479.3 L3217.3,514.6"/><polygon points="3214.8,527.7 3212.9,513.8 3221.7,515.5"/>
<path d="M3198.0,479.3 L3172.7,488.1 L3115.6,507.2 L3090.3,516.1 L3065.2,525.7 L3052.7,530.8 L3040.1,536.3 L3020.9,545.5 L3001.5,555.3 L2975.8,569.1 L2908.3,606.1 L2840.0,641.0 L2812.6,654.3 L2787.7,665.8 L2757.7,679.1 L2727.3,691.9 L2701.1,702.3 L2675.5,712.0 L2645.9,722.7 L2615.6,732.9 L2551.3,754.0 L2524.1,762.6 L2496.7,770.7 L2469.2,777.7 L2447.8,782.4 L2426.5,786.3 L2399.9,790.5 L2367.6,794.7 L2321.9,800.3 L2290.1,803.6 L2251.0,807.2 L2205.1,810.8 L2166.0,813.7 L2126.1,816.3 L1985.2,824.1 L1883.9,829.0 L1676.9,838.4"/><polygon points="1663.6,839.0 1676.7,833.9 1677.1,842.9"/>
<path d="M455.3,553.9 L507.5,595.1"/><polygon points="517.9,603.3 504.7,598.6 510.3,591.5"/>
<path d="M437.4,554.0 L417.4,738.8"/><polygon points="416.0,752.0 413.0,738.3 421.9,739.3"/>
<path d="M1370.0,548.4 L976.4,580.0 L629.3,608.2"/><polygon points="616.0,609.3 628.9,603.7 629.6,612.7"/>
<path d="M1370.0,551.0 L1265.3,573.2 L1221.5,582.7 L1147.4,599.7 L1103.4,610.4 L1082.7,615.9 L1067.8,620.2 L1029.5,632.1 L1005.6,640.6 L993.0,645.7 L984.4,649.6 L971.7,656.1 L962.2,661.4 L953.7,666.8 L948.0,671.2 L943.3,675.8 L940.3,680.1 L937.9,684.9 L936.5,689.9 L936.0,693.2 L935.9,696.7 L936.1,699.8 L936.7,703.0 L938.8,709.6 L942.5,717.4 L946.6,724.1 L950.6,729.1 L956.6,735.3 L965.3,743.4"/><polygon points="975.0,752.5 962.2,746.7 968.4,740.1"/>
<path d="M1423.0,553.8 L1347.6,596.5"/><polygon points="1336.0,603.0 1345.4,592.5 1349.8,600.4"/>
<path d="M1438.5,554.0 L1386.5,655.7 L1341.9,740.2"/><polygon points="1335.7,752.0 1337.9,738.1 1345.9,742.3"/>
<path d="M1451.6,554.0 L1461.8,595.4 L1465.4,610.7 L1468.0,624.5 L1469.5,637.1 L1470.0,645.8 L1470.5,675.1 L1470.3,748.6 L1471.0,809.3 L1470.6,825.4 L1469.5,842.0 L1468.6,850.1 L1467.1,856.7 L1464.6,863.4 L1460.6,871.1 L1455.6,878.3 L1449.2,885.9 L1442.2,892.6 L1435.3,897.8 L1426.0,903.4 L1418.3,907.1 L1404.7,912.2 L1371.0,923.0 L1340.7,934.2 L1329.9,937.6 L1317.7,940.8 L1307.3,943.1 L1289.7,946.5 L1249.8,953.1 L1131.9,970.8 L1042.2,983.6"/><polygon points="1029.0,985.5 1041.5,979.2 1042.8,988.1"/>
<path d="M1459.0,554.0 L1491.7,607.6 L1498.1,619.1 L1503.4,630.1 L1505.6,635.6 L1507.8,641.9 L1517.4,673.0 L1530.7,717.3 L1536.1,734.1 L1540.2,746.0 L1545.6,760.0 L1551.0,772.6 L1558.1,787.9 L1571.1,815.0"/><polygon points="1576.8,827.0 1567.1,816.9 1575.2,813.1"/>
<path d="M2159.0,553.8 L2191.0,569.4 L2203.2,575.9 L2218.6,585.1 L2232.0,594.3 L2239.1,599.6 L2245.9,605.2 L2252.4,610.9 L2258.6,616.8 L2264.6,622.9 L2270.1,629.0 L2279.4,640.8 L2284.9,649.0 L2287.2,653.2 L2289.2,657.5 L2290.7,661.5 L2291.8,665.6 L2292.9,670.8 L2293.8,676.1 L2294.6,683.6 L2294.9,690.4 L2294.5,708.8 L2294.5,740.9 L2294.2,756.8 L2295.3,766.4 L2296.8,772.2 L2298.7,776.2 L2302.0,780.8 L2305.7,784.5 L2310.8,788.6 L2315.1,791.3 L2319.9,793.7 L2337.9,801.3 L2360.4,809.6 L2386.0,818.0 L2416.2,826.8 L2446.0,834.6 L2473.4,840.8 L2509.3,848.0 L2542.3,853.9 L2581.9,860.3 L2612.0,864.6 L2644.4,868.7 L2742.4,879.3 L2857.2,892.2 L2886.7,895.1 L2921.4,898.2 L3038.7,907.7"/><polygon points="3052.0,908.8 3038.4,912.2 3039.1,903.2"/>
<path d="M2947.5,553.8 L3126.9,890.8"/><polygon points="3133.2,902.5 3123.0,892.9 3130.9,888.6"/>
<path d="M3209.0,553.8 L3201.5,637.0 L3200.2,654.7 L3199.8,667.0 L3199.7,682.0 L3200.5,754.6 L3200.1,761.8 L3199.4,769.4 L3197.3,785.0 L3194.8,798.6 L3191.5,811.8 L3187.8,824.0 L3182.7,837.7 L3177.4,849.8 L3172.5,859.9 L3165.3,872.6 L3154.3,891.0"/><polygon points="3147.5,902.5 3150.4,888.8 3158.1,893.3"/>
<path d="M553.3,628.8 L607.3,666.6 L692.3,727.1 L720.0,746.2 L747.7,764.7 L774.0,781.5 L814.4,806.3 L856.9,831.8 L939.0,880.6 L961.9,894.6"/><polygon points="973.0,902.0 959.4,898.4 964.4,890.9"/>
<path d="M1262.8,628.8 L1092.4,674.4"/><polygon points="1079.6,677.8 1091.3,670.0 1093.6,678.7"/>
<path d="M1296.4,628.8 L1272.6,650.8 L1255.6,666.9 L1173.0,747.0 L1136.0,782.5 L1018.7,892.9"/><polygon points="1009.0,902.0 1015.6,889.6 1021.8,896.2"/>
<path d="M116.5,703.0 L172.4,750.9 L187.5,763.5 L203.0,775.9 L232.1,798.0 L253.6,813.8 L275.4,829.0 L297.4,843.5 L314.9,854.1 L332.2,863.9 L349.8,873.2 L371.8,884.1 L397.7,896.1 L427.5,909.1 L446.2,916.7 L464.8,923.6 L481.3,928.9 L496.7,933.1 L511.4,936.7 L532.1,941.0 L553.7,945.0 L576.0,948.6 L633.8,956.9 L665.3,960.5 L703.9,964.3 L828.6,975.3 L944.7,985.2"/><polygon points="958.0,986.3 944.4,989.6 945.1,980.7"/>
<path d="M954.4,699.0 L508.5,753.0"/><polygon points="495.3,754.6 508.0,748.5 509.0,757.5"/>
<path d="M1026.5,703.0 L1007.8,740.8"/><polygon points="1001.9,752.7 1003.8,738.8 1011.8,742.8"/>
<path d="M1083.4,703.0 L1261.1,749.3"/><polygon points="1274.0,752.7 1260.0,753.7 1262.3,745.0"/>
<path d="M1055.3,703.0 L1119.4,733.8 L1135.0,740.9 L1151.4,747.8 L1182.7,760.6 L1210.3,771.2 L1234.2,779.4 L1254.0,785.6 L1270.7,790.1 L1289.1,794.6 L1314.6,800.1 L1340.6,805.1 L1426.4,820.0 L1451.6,823.8 L1495.2,830.1"/><polygon points="1508.4,832.0 1494.6,834.5 1495.9,825.6"/>
<path d="M995.1,777.9 L995.3,888.7"/><polygon points="995.3,902.0 990.8,888.7 999.8,888.6"/>
<path d="M1371.0,778.0 L1523.0,823.7"/><polygon points="1535.7,827.5 1521.7,828.0 1524.3,819.4"/>
<path d="M1508.4,850.6 L1079.0,903.4"/><polygon points="1065.8,905.0 1078.5,898.9 1079.5,907.8"/>
<path d="M1663.6,844.0 L1841.7,852.0 L1934.2,856.5 L2214.9,872.4 L2341.4,878.9 L2455.0,884.2 L3038.7,909.9"/><polygon points="3052.0,910.5 3038.5,914.4 3038.9,905.4"/>
<path d="M3407.0,852.3 L3207.0,899.0"/><polygon points="3194.0,902.0 3205.9,894.6 3208.0,903.4"/>
<path d="M3051.8,917.7 L2797.0,926.3 L1844.6,959.6 L1042.3,987.0"/><polygon points="1029.0,987.5 1042.1,982.5 1042.4,991.5"/>
<path d="M3181.0,927.5 L3331.8,974.5"/><polygon points="3344.5,978.5 3330.5,978.8 3333.1,970.2"/>
<path d="M3407.3,977.0 L3420.9,977.8 L3424.3,978.3 L3427.8,979.2 L3432.3,980.7 L3435.1,982.1 L3437.2,983.7 L3438.9,986.0 L3439.9,988.6 L3439.9,991.1 L3438.6,994.0 L3436.5,996.5 L3434.1,998.1 L3430.4,999.7 L3425.2,1001.2 L3420.6,1002.1"/><polygon points="3407.3,1002.6 3420.4,997.6 3420.8,1006.5"/>
</g>
<g>
<rect x="1505.0" y="6.0" width="103.0" height="25.3" fill="#bfbfbf" stroke="#000" stroke-width="1.33"/>
<text x="1515.6 1528.6 1536.6 1540.6 1548.6 1555.6 1568.6 1573.6 1577.6 1581.6 1585.6 1589.6" y="22.4">main_mfill.c</text>
<rect x="5.2" y="80.6" width="71.1" height="25.3" fill="#fff" stroke="#bfbfbf" stroke-width="1.33"/>
<text x="16.4 23.4 28.4 36.4 44.4 52.4 56.4" y="97.1">ctype.h</text>
<rect x="213.0" y="80.6" width="84.6" height="25.3" fill="#fff" stroke="#000" stroke-width="1.33"/>
<text x="223.9 227.9 235.9 240.9 248.9 253.9 261.9 269.9 273.9 277.9" y="97.1">internal.h</text>
<rect x="3593.8" y="80.6" width="106.9" height="25.3" fill="#fff" stroke="#bfbfbf" stroke-width="1.33"/>
<text x="3604.3 3609.3 3614.3 3622.3 3635.3 3642.3 3646.3 3653.3 3661.3 3669.3 3673.3 3677.3 3681.3" y="97.1">rtems/shell.h</text>
<rect x="3725.4" y="80.6" width="127.1" height="25.3" fill="#fff" stroke="#bfbfbf" stroke-width="1.33"/>
<text x="3736.5 3741.5 3746.5 3754.5 3767.5 3774.5 3778.5 3785.5 3790.5 3795.5 3799.5 3807.5 3815.5 3820.5 3828.5 3832.5" y="97.1">rtems/stringto.h</text>
<rect x="151.4" y="155.3" width="66.2" height="25.3" fill="#fff" stroke="#f00" stroke-width="1.33"/>
<text x="162.6 169.6 177.6 185.6 189.6 193.6 197.6" y="171.7">shell.h</text>
<rect x="80.7" y="230.0" width="67.0" height="25.3" fill="#fff" stroke="#bfbfbf" stroke-width="1.33"/>
<text x="91.8 98.8 103.8 111.8 115.8 123.8 127.8" y="246.4">stdio.h</text>
<rect x="1520.4" y="230.0" width="72.6" height="25.3" fill="#fff" stroke="#000" stroke-width="1.33"/>
<text x="1531.3 1536.3 1541.3 1549.3 1562.3 1569.3 1573.3" y="246.4">rtems.h</text>
<rect x="273.3" y="304.6" width="156.2" height="25.3" fill="#fff" stroke="#000" stroke-width="1.33"/>
<text x="284.0 289.0 294.0 302.0 315.0 322.0 326.0 331.0 336.0 344.0 357.0 364.0 368.0 375.0 383.0 390.0 398.0 406.0 410.0" y="321.1">rtems/rtems/cache.h</text>
<rect x="1428.8" y="304.6" width="146.5" height="25.3" fill="#fff" stroke="#f00" stroke-width="1.33"/>
<text x="1439.6 1444.6 1449.6 1457.6 1470.6 1477.6 1481.6 1486.6 1491.6 1499.6 1512.6 1519.6 1523.6 1530.6 1538.6 1551.6 1555.6" y="321.1">rtems/rtems/sem.h</text>
<rect x="2117.8" y="304.6" width="88.6" height="25.3" fill="#fff" stroke="#000" stroke-width="1.33"/>
<text x="2128.7 2133.7 2138.7 2146.7 2159.7 2166.7 2170.7 2174.7 2182.7 2186.7" y="321.1">rtems/io.h</text>
<rect x="161.5" y="379.3" width="96.5" height="25.3" fill="#fff" stroke="#bfbfbf" stroke-width="1.33"/>
<text x="172.3 179.3 187.3 194.3 198.3 203.3 211.3 219.3 227.3 234.3 238.3" y="395.7">sys/types.h</text>
<rect x="333.0" y="379.3" width="124.6" height="25.3" fill="#fff" stroke="#000" stroke-width="1.33"/>
<text x="343.9 348.9 353.9 361.9 374.9 381.9 385.9 392.9 400.9 407.9 412.9 420.9 433.9 437.9" y="395.7">rtems/system.h</text>
<rect x="707.7" y="379.3" width="97.5" height="25.3" fill="#fff" stroke="#000" stroke-width="1.33"/>
<text x="718.6 723.6 728.6 736.6 749.6 756.6 760.6 764.6 772.6 776.6 781.6 785.6" y="395.7">rtems/init.h</text>
<rect x="1066.5" y="379.3" width="166.8" height="25.3" fill="#fff" stroke="#000" stroke-width="1.33"/>
<text x="1077.0 1082.0 1087.0 1095.0 1108.0 1115.0 1119.0 1124.0 1129.0 1137.0 1150.0 1157.0 1161.0 1168.0 1176.0 1184.0 1192.0 1200.0 1205.0 1210.0 1214.0" y="395.7">rtems/rtems/support.h</text>
<rect x="1258.0" y="379.3" width="152.0" height="25.3" fill="#fff" stroke="#f00" stroke-width="1.33"/>
<text x="1268.6 1273.6 1278.6 1286.6 1299.6 1306.6 1310.6 1315.6 1320.6 1328.6 1341.6 1348.6 1352.6 1359.6 1363.6 1371.6 1378.6 1386.6 1390.6" y="395.7">rtems/rtems/clock.h</text>
<rect x="1535.7" y="379.3" width="153.6" height="25.3" fill="#fff" stroke="#000" stroke-width="1.33"/>
<text x="1546.6 1551.6 1556.6 1564.6 1577.6 1584.6 1588.6 1593.6 1598.6 1606.6 1619.6 1626.6 1630.6 1635.6 1643.6 1650.6 1658.6 1665.6 1669.6" y="395.7">rtems/rtems/tasks.h</text>
<rect x="2531.2" y="379.3" width="106.9" height="25.3" fill="#fff" stroke="#000" stroke-width="1.33"/>
<text x="2542.2 2547.2 2552.2 2560.2 2573.2 2580.2 2584.2 2589.2 2597.2 2602.2 2610.2 2614.2 2618.2" y="395.7">rtems/fatal.h</text>
<rect x="164.5" y="454.0" width="138.7" height="25.3" fill="#fff" stroke="#000" stroke-width="1.33"/>
<text x="174.4 179.4 184.4 192.4 205.4 212.4 216.4 221.4 226.4 234.4 247.4 254.4 258.4 262.4 270.4 275.4 280.4 284.4" y="470.4">rtems/rtems/intr.h</text>
<rect x="378.0" y="454.0" width="157.3" height="25.3" fill="#fff" stroke="#000" stroke-width="1.33"/>
<text x="388.8 393.8 398.8 406.8 419.8 426.8 430.8 435.8 440.8 448.8 461.8 468.8 472.8 479.8 483.8 491.8 499.8 507.8 511.8 515.8" y="470.4">rtems/rtems/signal.h</text>
<rect x="559.6" y="454.0" width="158.9" height="25.3" fill="#fff" stroke="#000" stroke-width="1.33"/>
<text x="570.6 575.6 580.6 588.6 601.6 608.6 612.6 617.6 622.6 630.6 643.6 650.6 654.6 662.6 670.6 674.6 682.6 689.6 694.6 698.6" y="470.4">rtems/rtems/object.h</text>
<rect x="844.5" y="454.0" width="115.0" height="25.3" fill="#fff" stroke="#bfbfbf" stroke-width="1.33"/>
<text x="854.6 859.6 864.6 872.6 885.6 892.6 896.6 903.6 911.6 919.6 924.6 928.6 936.6 940.6" y="470.4">rtems/config.h</text>
<rect x="1034.0" y="454.0" width="173.5" height="25.3" fill="#fff" stroke="#f00" stroke-width="1.33"/>
<text x="1044.8 1049.8 1054.8 1062.8 1075.8 1082.8 1086.8 1091.8 1096.8 1104.8 1117.8 1124.8 1128.8 1133.8 1141.8 1146.8 1154.8 1167.8 1175.8 1183.8 1187.8" y="470.4">rtems/rtems/ratemon.h</text>
<rect x="1637.0" y="454.0" width="167.0" height="25.3" fill="#fff" stroke="#000" stroke-width="1.33"/>
<text x="1647.1 1652.1 1657.1 1665.1 1678.1 1685.1 1689.1 1694.1 1699.1 1707.1 1720.1 1727.1 1731.1 1739.1 1747.1 1760.1 1768.1 1781.1 1785.1" y="470.4">rtems/rtems/dpmem.h</text>
<rect x="1829.5" y="454.0" width="139.8" height="25.3" fill="#fff" stroke="#f00" stroke-width="1.33"/>
<text x="1840.0 1845.0 1850.0 1858.0 1871.0 1878.0 1882.0 1890.0 1898.0 1903.0 1911.0 1919.0 1926.0 1930.0 1938.0 1946.0 1950.0" y="470.4">rtems/extension.h</text>
<rect x="2044.5" y="454.0" width="154.8" height="25.3" fill="#fff" stroke="#000" stroke-width="1.33"/>
<text x="2055.0 2060.0 2065.0 2073.0 2086.0 2093.0 2097.0 2102.0 2107.0 2115.0 2128.0 2135.0 2139.0 2147.0 2155.0 2163.0 2171.0 2176.0 2180.0" y="470.4">rtems/rtems/event.h</text>
<rect x="2273.6" y="454.0" width="144.7" height="25.3" fill="#fff" stroke="#000" stroke-width="1.33"/>
<text x="2284.5 2289.5 2294.5 2302.5 2315.5 2322.5 2326.5 2331.5 2336.5 2344.5 2357.5 2364.5 2368.5 2376.5 2384.5 2389.5 2394.5 2398.5" y="470.4">rtems/rtems/part.h</text>
<rect x="2441.9" y="454.0" width="152.5" height="25.3" fill="#fff" stroke="#000" stroke-width="1.33"/>
<text x="2452.2 2457.2 2462.2 2470.2 2483.2 2490.2 2494.2 2499.2 2504.2 2512.2 2525.2 2532.2 2536.2 2541.2 2545.2 2558.2 2566.2 2571.2 2575.2" y="470.4">rtems/rtems/timer.h</text>
<rect x="2668.4" y="454.0" width="160.4" height="25.3" fill="#fff" stroke="#f00" stroke-width="1.33"/>
<text x="2678.7 2683.7 2688.7 2696.7 2709.7 2716.7 2720.7 2725.7 2730.7 2738.7 2751.7 2758.7 2762.7 2770.7 2778.7 2783.7 2788.7 2792.7 2800.7 2805.7 2809.7" y="470.4">rtems/rtems/barrier.h</text>
<rect x="2853.5" y="454.0" width="158.6" height="25.3" fill="#fff" stroke="#f00" stroke-width="1.33"/>
<text x="2863.9 2868.9 2873.9 2881.9 2894.9 2901.9 2905.9 2910.9 2915.9 2923.9 2936.9 2943.9 2947.9 2952.9 2960.9 2968.9 2972.9 2980.9 2988.9 2992.9" y="470.4">rtems/rtems/region.h</text>
<rect x="3138.9" y="454.0" width="177.2" height="25.3" fill="#fff" stroke="#f00" stroke-width="1.33"/>
<text x="3149.6 3154.6 3159.6 3167.6 3180.6 3187.6 3191.6 3196.6 3201.6 3209.6 3222.6 3229.6 3233.6 3246.6 3254.6 3261.6 3268.6 3276.6 3284.6 3292.6 3296.6" y="470.4">rtems/rtems/message.h</text>
<rect x="164.5" y="528.6" width="130.8" height="25.3" fill="#fff" stroke="#f00" stroke-width="1.33"/>
<text x="175.0 180.0 185.0 193.0 206.0 213.0 217.0 224.0 231.0 239.0 244.0 252.0 256.0 260.0 267.0 272.0 276.0" y="545.1">rtems/score/isr.h</text>
<rect x="370.5" y="528.6" width="137.5" height="25.3" fill="#fff" stroke="#000" stroke-width="1.33"/>
<text x="380.9 385.9 390.9 398.9 411.9 418.9 422.9 427.9 432.9 440.9 453.9 460.9 464.9 472.9 479.9 484.9 488.9" y="545.1">rtems/rtems/asr.h</text>
<rect x="1370.0" y="528.6" width="154.5" height="25.3" fill="#fff" stroke="#000" stroke-width="1.33"/>
<text x="1380.8 1385.8 1390.8 1398.8 1411.8 1418.8 1422.8 1427.8 1432.8 1440.8 1453.8 1460.8 1464.8 1469.8 1477.8 1485.8 1493.8 1500.8 1504.8" y="545.1">rtems/rtems/types.h</text>
<rect x="2042.6" y="528.6" width="158.5" height="25.3" fill="#fff" stroke="#000" stroke-width="1.33"/>
<text x="2053.4 2058.4 2063.4 2071.4 2084.4 2091.4 2095.4 2100.4 2105.4 2113.4 2126.4 2133.4 2137.4 2144.4 2149.4 2157.4 2162.4 2170.4 2177.4 2181.4" y="545.1">rtems/rtems/status.h</text>
<rect x="2870.7" y="528.6" width="139.9" height="25.3" fill="#fff" stroke="#000" stroke-width="1.33"/>
<text x="2880.7 2885.7 2890.7 2898.7 2911.7 2918.7 2922.7 2927.7 2932.7 2940.7 2953.7 2960.7 2964.7 2972.7 2977.7 2982.7 2987.7 2991.7" y="545.1">rtems/rtems/attr.h</text>
<rect x="3127.7" y="528.6" width="167.1" height="25.3" fill="#fff" stroke="#000" stroke-width="1.33"/>
<text x="3138.8 3143.8 3148.8 3156.8 3169.8 3176.8 3180.8 3185.8 3190.8 3198.8 3211.8 3218.8 3222.8 3230.8 3238.8 3243.8 3247.8 3255.8 3263.8 3270.8 3274.8" y="545.1">rtems/rtems/options.h</text>
<rect x="452.7" y="603.3" width="162.6" height="25.3" fill="#fff" stroke="#000" stroke-width="1.33"/>
<text x="463.6 468.6 473.6 481.6 494.6 501.6 505.6 510.6 515.6 523.6 536.6 543.6 547.6 560.6 568.6 576.6 584.6 591.6 595.6" y="619.7">rtems/rtems/modes.h</text>
<rect x="1236.6" y="603.3" width="146.9" height="25.3" fill="#fff" stroke="#000" stroke-width="1.33"/>
<text x="1247.1 1252.1 1257.1 1265.1 1278.1 1285.1 1289.1 1296.1 1303.1 1311.1 1316.1 1324.1 1328.1 1336.1 1344.1 1352.1 1360.1 1364.1" y="619.7">rtems/score/heap.h</text>
<rect x="27.3" y="678.0" width="146.9" height="25.3" fill="#fff" stroke="#000" stroke-width="1.33"/>
<text x="38.4 43.4 48.4 56.4 69.3 76.3 80.3 85.3 90.3 98.3 111.3 118.3 122.3 129.3 142.3 150.3 154.3" y="694.4">rtems/rtems/smp.h</text>
<rect x="954.4" y="678.0" width="157.0" height="25.3" fill="#fff" stroke="#f00" stroke-width="1.33"/>
<text x="965.0 970.0 975.0 983.0 996.0 1003.0 1007.0 1014.0 1021.0 1029.0 1034.0 1042.0 1046.0 1051.0 1059.0 1064.0 1072.0 1080.0 1088.0 1092.0" y="694.4">rtems/score/thread.h</text>
<rect x="336.0" y="752.6" width="159.0" height="25.3" fill="#fff" stroke="#f00" stroke-width="1.33"/>
<text x="347.1 352.1 357.1 365.1 378.1 385.1 389.1 396.1 403.1 411.1 416.1 424.1 428.1 432.1 439.1 444.1 448.1 456.1 463.1 471.1 475.1" y="769.1">rtems/score/isrlock.h</text>
<rect x="915.1" y="752.6" width="160.0" height="25.3" fill="#fff" stroke="#000" stroke-width="1.33"/>
<text x="924.7 929.7 934.7 942.7 955.7 962.7 966.7 973.7 980.7 988.7 993.7 1001.7 1005.7 1013.7 1018.7 1022.7 1030.7 1035.7 1039.7 1044.7 1052.7 1056.7" y="769.1">rtems/score/priority.h</text>
<rect x="1236.3" y="752.6" width="179.0" height="25.3" fill="#fff" stroke="#000" stroke-width="1.33"/>
<text x="1247.4 1252.4 1257.4 1265.4 1278.4 1285.4 1289.4 1296.4 1303.4 1311.4 1316.4 1324.4 1328.4 1339.4 1347.4 1352.4 1359.4 1367.4 1375.4 1383.4 1391.4 1395.4" y="769.1">rtems/score/watchdog.h</text>
<rect x="1508.4" y="827.3" width="155.2" height="25.3" fill="#fff" stroke="#f00" stroke-width="1.33"/>
<text x="1519.1 1524.1 1529.1 1537.1 1550.1 1557.1 1561.1 1568.1 1575.1 1583.1 1588.1 1596.1 1600.1 1608.1 1616.1 1620.1 1628.1 1635.1 1640.1 1644.1" y="843.7">rtems/score/object.h</text>
<rect x="3402.4" y="827.3" width="116.3" height="25.3" fill="#fff" stroke="#000" stroke-width="1.33"/>
<text x="3413.2 3418.2 3423.2 3431.2 3444.2 3451.2 3455.2 3463.2 3471.2 3479.2 3487.2 3495.2 3499.2" y="843.7">rtems/debug.h</text>
<rect x="926.0" y="902.0" width="138.7" height="25.3" fill="#fff" stroke="#bfbfbf" stroke-width="1.33"/>
<text x="937.0 942.0 947.0 955.0 968.0 975.0 979.0 986.0 993.0 1001.0 1006.0 1014.0 1018.0 1025.0 1033.0 1041.0 1045.0" y="918.4">rtems/score/cpu.h</text>
<rect x="3051.8" y="902.0" width="174.9" height="25.3" fill="#fff" stroke="#f00" stroke-width="1.33"/>
<text x="3062.8 3067.8 3072.8 3080.8 3093.8 3100.8 3104.8 3111.8 3118.8 3126.8 3131.8 3139.8 3143.8 3151.8 3159.8 3166.8 3174.8 3182.8 3190.8 3195.8 3202.8 3206.8" y="918.4">rtems/score/basedefs.h</text>
<rect x="958.0" y="976.6" width="70.0" height="25.3" fill="#fff" stroke="#bfbfbf" stroke-width="1.33"/>
<text x="968.1 975.1 980.1 988.1 992.1 1000.1 1005.1 1009.1" y="993.1">stdint.h</text>
<rect x="3345.2" y="976.6" width="71.1" height="25.3" fill="#fff" stroke="#000" stroke-width="1.33"/>
<text x="3355.8 3362.8 3367.8 3372.8 3376.8 3384.8 3392.8 3396.8" y="993.1">string.h</text>
</g></svg></body></html>
